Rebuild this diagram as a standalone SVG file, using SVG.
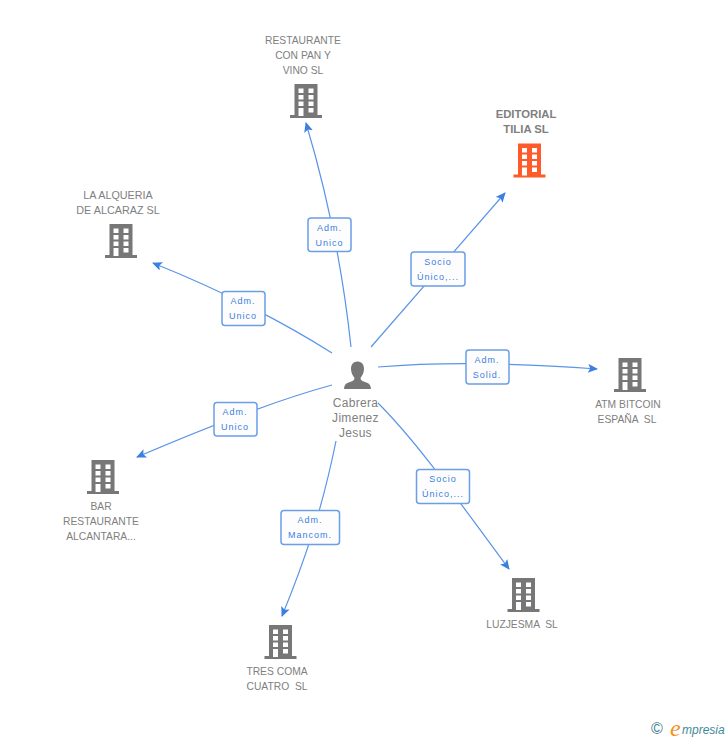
<svg xmlns="http://www.w3.org/2000/svg" width="728" height="740" viewBox="0 0 728 740">
<style>
text{font-family:"Liberation Sans",Arial,sans-serif}
.n{font-size:10.300px;fill:#808080;text-anchor:middle;white-space:pre}
.w{font-size:10.800px}
.b{font-size:11.300px;font-weight:bold;fill:#808080;text-anchor:middle}
.p{font-size:12px;fill:#808080;text-anchor:middle;letter-spacing:.3px}
.l{font-size:9px;fill:#3b7fe0;text-anchor:middle;letter-spacing:1px}
.e{fill:none;stroke:#5a94e8;stroke-width:1.2;marker-end:url(#a)}
.r{fill:#fdfdfd;stroke:#6a9fe8;stroke-width:1.5}
</style>
<defs>
<marker id="a" markerUnits="userSpaceOnUse" markerWidth="14" markerHeight="12" refX="9" refY="4.500" orient="auto"><path d="M0 0L10 4.500L0 9L2.200 4.500Z" fill="#3b7fe0"/></marker>
<path id="w" fill="currentColor" fill-rule="evenodd" d="M-11.500 0H11.500V31H16V34H-16V31H-11.500ZM-7.500 4.500V9H-2.500V4.500ZM2.500 4.500V9H7.500V4.500ZM-7.500 11V15.500H-2.500V11ZM2.500 11V15.500H7.500V11ZM-7.500 17.500V22H-2.500V17.500ZM2.500 17.500V22H7.500V17.500ZM-7.500 24V32H-2.500V24ZM2.500 24V28.500H7.500V24Z"/>
</defs>
<g id="connectors">
<path class="e" d="M351 347C346 300 335 220 306 123"/>
<path class="e" d="M371 347L505 193"/>
<path class="e" d="M378 367C450 361 530 364 597 369"/>
<path class="e" d="M378 403C420 445 465 510 509 569"/>
<path class="e" d="M336 441C322 510 305 560 282 616"/>
<path class="e" d="M332 385C270 402 200 430 137 457"/>
<path class="e" d="M332 353C280 320 220 290 153 263"/>
</g>
<g id="label-1"><rect class="r" x="308" y="218" width="43" height="33.500" rx="3"/><text class="l" x="329.500" y="231">Adm.</text><text class="l" x="329.500" y="246">Unico</text></g>
<g id="label-2"><rect class="r" x="411" y="252" width="54" height="34" rx="3"/><text class="l" x="438" y="265">Socio</text><text class="l" x="438" y="280">Único,...</text></g>
<g id="label-3"><rect class="r" x="466" y="350" width="43" height="34" rx="3"/><text class="l" x="487" y="363">Adm.</text><text class="l" x="487" y="378">Solid.</text></g>
<g id="label-4"><rect class="r" x="416.500" y="469.500" width="53" height="34" rx="3"/><text class="l" x="443" y="482">Socio</text><text class="l" x="443" y="497">Único,...</text></g>
<g id="label-5"><rect class="r" x="281" y="510.500" width="58.500" height="34" rx="3"/><text class="l" x="310" y="523">Adm.</text><text class="l" x="310" y="538">Mancom.</text></g>
<g id="label-6"><rect class="r" x="214" y="402.500" width="43" height="33.500" rx="3"/><text class="l" x="235" y="415">Adm.</text><text class="l" x="235" y="430">Unico</text></g>
<g id="label-7"><rect class="r" x="222" y="291.500" width="43" height="34" rx="3"/><text class="l" x="243" y="304">Adm.</text><text class="l" x="243" y="319">Unico</text></g>
<g id="person"><path fill="#777" d="M357.500 361.500C352.500 361.500 351 365.500 351 369C351 373 353 376 354.500 378C354.500 380 353 381 350 382C346 383.500 344.500 384 344 389H371C370.500 384 369 383.500 365 382C362 381 360.500 380 360.500 378C362 376 364 373 364 369C364 365.500 362.500 361.500 357.500 361.500Z"/><text class="p" x="355.500" y="407">Cabrera</text><text class="p" x="355.500" y="422">Jimenez</text><text class="p" x="355.500" y="437">Jesus</text></g>
<g id="node-restaurante" color="#777"><use href="#w" x="306" y="84"/><text class="n" x="303" y="44">RESTAURANTE</text><text class="n" x="303" y="59">CON PAN Y</text><text class="n" x="303" y="74">VINO SL</text></g>
<g id="node-editorial" color="#ff5a2c"><use href="#w" x="529.500" y="143.500"/><text class="b" x="526" y="118">EDITORIAL</text><text class="b" x="526" y="133">TILIA SL</text></g>
<g id="node-alqueria" color="#777"><use href="#w" x="121" y="224"/><text class="n w" x="118" y="199">LA ALQUERIA</text><text class="n w" x="118" y="214">DE ALCARAZ SL</text></g>
<g id="node-atm" color="#777"><use href="#w" x="630" y="358"/><text class="n" x="628" y="408">ATM BITCOIN</text><text class="n" x="627" y="423">ESPAÑA  SL</text></g>
<g id="node-bar" color="#777"><use href="#w" x="103" y="460"/><text class="n" x="101" y="510">BAR</text><text class="n" x="101" y="525">RESTAURANTE</text><text class="n" x="101" y="540">ALCANTARA...</text></g>
<g id="node-tres" color="#777"><use href="#w" x="280.500" y="625"/><text class="n" x="277" y="675">TRES COMA</text><text class="n" x="277" y="690">CUATRO  SL</text></g>
<g id="node-luzjesma" color="#777"><use href="#w" x="523.500" y="578"/><text class="n" x="522" y="628">LUZJESMA  SL</text></g>
<g id="brand"><text x="657" y="734" font-size="16" fill="#3f7f90" text-anchor="middle">©</text><text x="670" y="736" font-size="24" font-style="italic" fill="#f39020" style="font-family:'Liberation Serif',serif">e</text><text x="682" y="734" font-size="12" font-style="italic" fill="#3f8a9a">mpresia</text></g>
</svg>
